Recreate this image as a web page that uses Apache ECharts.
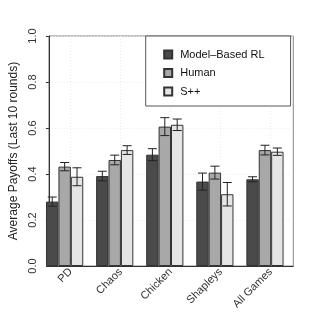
<!DOCTYPE html>
<html><head><meta charset="utf-8">
<script src="https://cdn.jsdelivr.net/npm/echarts@6/dist/echarts.min.js"></script>
<style>html,body{margin:0;padding:0;background:#fff}#c{width:312px;height:312px}</style>
</head><body><div id="c"></div>
<script>
const categories = ['PD', 'Chaos', 'Chicken', 'Shapleys', 'All Games'];
const seriesNames = ['Model–Based RL', 'Human', 'S++'];
const modelBased = [0.280, 0.391, 0.484, 0.367, 0.377];
const human = [0.432, 0.461, 0.606, 0.406, 0.504];
const spp = [0.388, 0.504, 0.614, 0.312, 0.497];
const modelBasedErr = [0.020, 0.021, 0.026, 0.037, 0.011];
const humanErr = [0.018, 0.021, 0.039, 0.028, 0.021];
const sppErr = [0.039, 0.019, 0.025, 0.051, 0.016];
const yTicks = [0, 0.2, 0.4, 0.6, 0.8, 1.0];

const colors = ['#4a4a4a', '#a8a8a8', '#e5e5e5'];
const values = [modelBased, human, spp];
const errs = [modelBasedErr, humanErr, sppErr];
const BW = 12.4;
const FONT = 'Liberation Sans, Arial, sans-serif';

const errData = [];
values.forEach((vals, s) => vals.forEach((v, i) => {
  errData.push([i, v - errs[s][i], v + errs[s][i], s]);
}));

const chart = echarts.init(document.getElementById('c'), null, {renderer: 'canvas'});
chart.setOption({
  animation: false,
  textStyle: {fontFamily: FONT},
  grid: [
    {left: 36.7, right: 18.7, top: 36, bottom: 46, show: true, borderColor: '#888', borderWidth: 1, backgroundColor: 'transparent'},
    {left: 39.6, right: 22, top: 36, bottom: 46},
    {left: 70.7, right: 41.3, top: 36, bottom: 46}
  ],
  xAxis: [
    {gridIndex: 0, type: 'value', min: 0, max: 1, axisLine: {show: true, onZero: false, lineStyle: {color: '#333', width: 1}},
     axisTick: {show: false}, axisLabel: {show: false}, splitLine: {show: false}},
    {gridIndex: 1, type: 'category', data: categories, show: false},
    {gridIndex: 2, type: 'category', data: categories, boundaryGap: false,
     axisLine: {show: false}, axisTick: {show: true, length: 4, lineStyle: {color: '#888'}},
     axisLabel: {rotate: 45, fontSize: 11, color: '#333', margin: 12, fontFamily: FONT},
     splitLine: {show: true, lineStyle: {color: '#ececec', type: [1, 2], width: 1}}}
  ],
  yAxis: [
    {gridIndex: 0, type: 'value', min: 0, max: 1, interval: 0.2,
     name: 'Average Payoffs (Last 10 rounds)', nameLocation: 'middle', nameGap: 31, nameRotate: 90,
     nameTextStyle: {fontSize: 12, color: '#222', fontFamily: FONT, align: 'center', verticalAlign: 'middle'},
     axisLine: {show: true, lineStyle: {color: '#333'}},
     axisTick: {show: true, length: 3, lineStyle: {color: '#333'}},
     axisLabel: {rotate: 90, fontSize: 11, color: '#333', margin: 15.5, fontFamily: FONT,
       align: 'center', verticalAlign: 'middle',
       formatter: v => (yTicks.includes(+v.toFixed(1)) ? v.toFixed(1) : '')},
     splitLine: {show: true, lineStyle: {color: '#ececec', type: [1, 2], width: 1}}},
    {gridIndex: 1, type: 'value', min: 0, max: 1, show: false},
    {gridIndex: 2, type: 'value', min: 0, max: 1, show: false}
  ],
  legend: {
    data: seriesNames, orient: 'vertical', left: 145.7, top: 36,
    padding: [13, 26, 9, 17.5], itemGap: 7.5, itemWidth: 8, itemHeight: 8,
    borderColor: '#555', borderWidth: 1, backgroundColor: '#fff',
    textStyle: {fontSize: 11, color: '#111', lineHeight: 11, fontFamily: FONT, padding: [0, 0, 0, 3]},
    icon: 'rect'
  },
  series: [
    ...values.map((vals, s) => ({
      name: seriesNames[s], type: 'bar', xAxisIndex: 1, yAxisIndex: 1,
      data: vals, barWidth: BW, barGap: '0%',
      itemStyle: {color: colors[s], borderColor: '#333', borderWidth: 1}
    })),
    {
      type: 'custom', xAxisIndex: 1, yAxisIndex: 1, data: errData, encode: {x: 0, y: [1, 2]}, z: 10,
      renderItem: (params, api) => {
        const cx = api.coord([api.value(0), 0])[0] + (api.value(3) - 1) * BW;
        const yl = api.coord([api.value(0), api.value(1)])[1];
        const yh = api.coord([api.value(0), api.value(2)])[1];
        const hw = 4.5;
        const st = {stroke: '#222', lineWidth: 1};
        return {type: 'group', children: [
          {type: 'line', shape: {x1: cx, y1: yl, x2: cx, y2: yh}, style: st},
          {type: 'line', shape: {x1: cx - hw, y1: yl, x2: cx + hw, y2: yl}, style: st},
          {type: 'line', shape: {x1: cx - hw, y1: yh, x2: cx + hw, y2: yh}, style: st}
        ]};
      }
    }
  ]
});
</script>
</body></html>
